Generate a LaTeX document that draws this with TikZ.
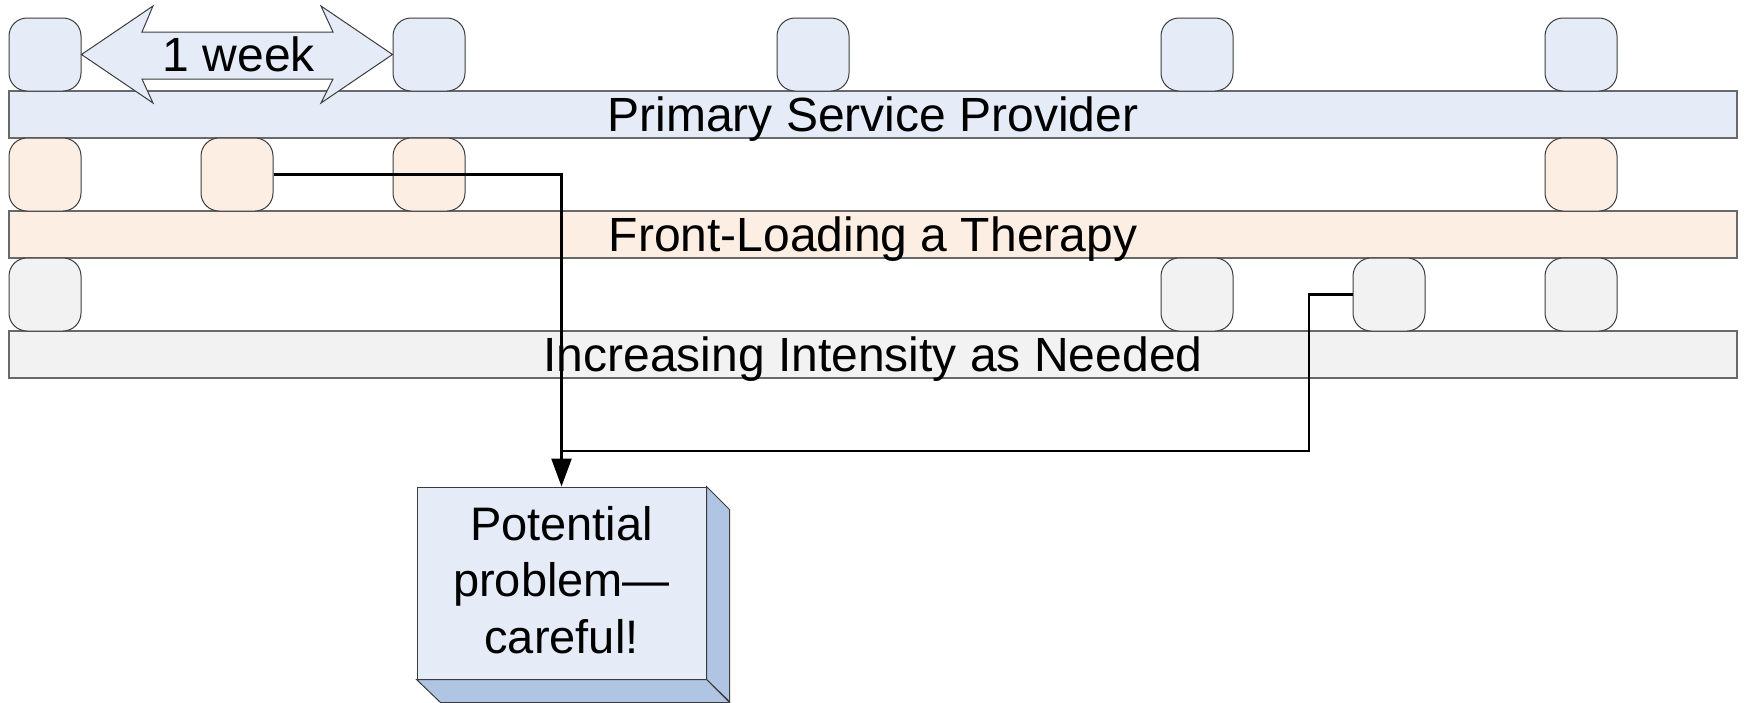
\documentclass[tikz,border=0pt]{standalone}
\usepackage{fontspec}
\setmainfont{Liberation Sans}
\usetikzlibrary{arrows.meta}
\definecolor{blueF}{RGB}{229,236,247}
\definecolor{peachF}{RGB}{253,238,227}
\definecolor{grayF}{RGB}{242,242,242}
\definecolor{sideF}{RGB}{176,196,228}
\definecolor{barLine}{RGB}{105,105,105}
\definecolor{boxLine}{RGB}{60,60,60}
\tikzset{
  slot/.style={draw=boxLine, line width=1pt, rounded corners=18pt,
    minimum width=72pt, minimum height=73pt, inner sep=0pt},
  lane/.style={draw=barLine, line width=1.4pt, minimum width=1728pt,
    minimum height=47pt, inner sep=0pt},
  big/.style={font=\fontsize{48}{57}\selectfont, inner sep=0pt},
  link/.style={line width=2.5pt, black},
}
\begin{document}
\begin{tikzpicture}[x=1pt, y=-1pt]
\useasboundingbox (0,0) rectangle (1745,702);

% lanes
\node[lane, fill=blueF]  (lane1) at (873,114.5) {};
\node[lane, fill=peachF] (lane2) at (873,234.5) {};
\node[lane, fill=grayF]  (lane3) at (873,354.5) {};
\node[big, anchor=base] (t1) at (873,131.5) {Primary Service Provider};
\node[big, anchor=base] (t2) at (873,251.5) {Front-Loading a Therapy};
\node[big, anchor=base] (t3) at (873,371.5) {Increasing Intensity as Needed};

% weekly sessions
\foreach \n/\x in {1/45, 2/429, 3/813, 4/1197, 5/1581}
  \node[slot, fill=blueF] (p\n) at (\x,54.5) {};
\foreach \n/\x in {1/45, 2/237, 3/429, 4/1581}
  \node[slot, fill=peachF] (f\n) at (\x,174.5) {};
\foreach \n/\x in {1/45, 2/1197, 3/1389, 4/1581}
  \node[slot, fill=grayF] (i\n) at (\x,294.5) {};

% one-week span arrow
\draw[draw=boxLine, line width=1pt, fill=blueF]
  (p1.east) -- (153,6) -- (142,32) -- (333,32) -- (321,6) -- (p2.west)
  -- (321,103) -- (333,79) -- (142,79) -- (153,103) -- cycle;
\node[big, anchor=base] (wk) at (239,71) {1 week};

% warning block with depth
\node[draw=boxLine, line width=1pt, fill=blueF, minimum width=289pt,
  minimum height=192pt, inner sep=0pt] (pp) at (561.5,583) {};
\draw[draw=boxLine, line width=1pt, fill=sideF]
  (pp.north east) -- ++(23,23) -- ++(0,192) -- (pp.south east) -- cycle;
\draw[draw=boxLine, line width=1pt, fill=sideF]
  (pp.south west) -- (pp.south east) -- ++(23,23) -- ++(-289,0) -- cycle;
\node[big, align=center, font=\fontsize{47}{56.5}\selectfont, anchor=base]
  (ppt) at (561.5,653) {Potential\\problem—\\careful!};

% connectors
\coordinate (bend) at (1309,451);
\coordinate (join) at (561.5,451);
\draw[link, -{Triangle[length=28pt,width=20pt]}] (f2.east) -| (pp.north);
\draw[link] (i3.west) -| (bend) -- (join);
\end{tikzpicture}
\end{document}
